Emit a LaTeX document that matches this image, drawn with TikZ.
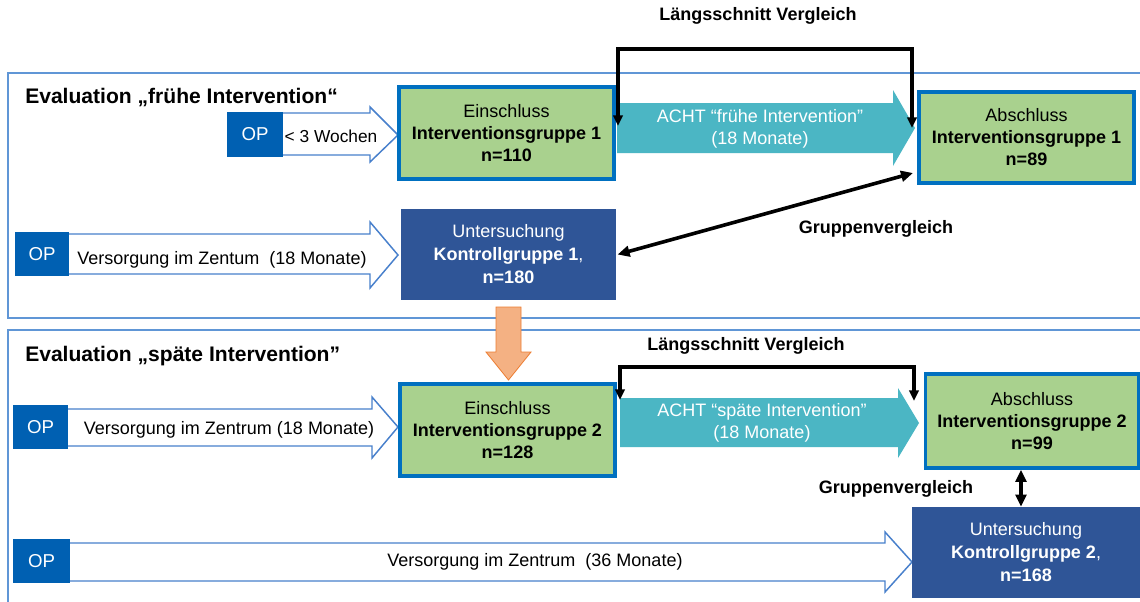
\documentclass[tikz,border=0pt]{standalone}
\usepackage{fontspec}
\setmainfont{Liberation Sans}
\usetikzlibrary{arrows.meta,calc}
\definecolor{opblue}{RGB}{0,96,178}
\definecolor{outblue}{RGB}{72,128,204}
\definecolor{framblue}{RGB}{96,150,214}
\definecolor{gfill}{RGB}{169,209,142}
\definecolor{gborder}{RGB}{0,112,192}
\definecolor{teal}{RGB}{75,182,196}
\definecolor{kblue}{RGB}{47,85,151}
\definecolor{ofill}{RGB}{244,177,131}
\definecolor{oborder}{RGB}{237,125,49}
\begin{document}
\begin{tikzpicture}[x=0.75pt,y=-0.75pt,
  txt/.style={font=\fontsize{13.5}{16.5}\selectfont, align=center, inner sep=0pt},
  btxt/.style={txt, font=\fontsize{13.5}{16.5}\selectfont\bfseries},
  title/.style={font=\fontsize{15.8}{19}\selectfont\bfseries, inner sep=0pt, anchor=west},
  greenbox/.style={txt, draw=gborder, line width=2.8pt, fill=gfill, minimum width=161.25pt, minimum height=69pt},
  kbox/.style={txt, fill=kblue, text=white, font=\fontsize{13.5}{17.25}\selectfont, minimum width=161.25pt, minimum height=68.25pt},
  opbox/.style={fill=opblue, text=white, font=\fontsize{14}{16}\selectfont, inner sep=0pt, minimum height=33pt},
  outarrow/.style={draw=outblue, line width=1.1pt, fill=white},
  tealarrow/.style={fill=teal},
  frame/.style={draw=framblue, line width=1.1pt},
  bracket/.style={line width=2.3pt, {Triangle[length=8pt,width=7pt]}-{Triangle[length=8pt,width=7pt]}},
  dbl/.style={line width=2.7pt, {Triangle[length=9pt,width=8pt]}-{Triangle[length=9pt,width=8pt]}}
]
\useasboundingbox (0,0) rectangle (1140,601);
\fill[white] (0,0) rectangle (1140,601);

% frames
\draw[frame] (1160,73) -- (8,73) -- (8,318) -- (1160,318);
\draw[frame] (1160,330) -- (8,330) -- (8,620);

% ===== Section 1 =====
\node[title] (t1) at (25,97) {Evaluation „frühe Intervention“};

\draw[outarrow] (240,113) -- (370,113) -- (370,107) -- (398,135) -- (370,162) -- (370,155) -- (240,155) -- cycle;
\node[opbox, minimum width=42pt, minimum height=33.75pt] (op1) at (255,134.5) {OP};
\node[txt, font=\fontsize{13}{16}\selectfont] (w1) at (331,136) {< 3 Wochen};

\node[greenbox] (ein1) at (506.5,133) {Einschluss\\\textbf{Interventionsgruppe 1}\\\textbf{n=110}};

\fill[tealarrow] (617,103) -- (893,103) -- (893,90) -- (915,128) -- (893,166) -- (893,153) -- (617,153) -- cycle;
\node[txt, text=white] (acht1) at (760,129) {ACHT “frühe Intervention”\\(18 Monate)};

\node[greenbox, minimum height=68.25pt] (abs1) at (1026.5,137.5) {Abschluss\\\textbf{Interventionsgruppe 1}\\\textbf{n=89}};

\node[btxt] (lv1) at (758,16) {Längsschnitt Vergleich};
\coordinate (lv1a) at (618,126);
\coordinate (lv1b) at (912,128);
\draw[bracket] (lv1a) -- (lv1a |- 0,49) -- (lv1b |- 0,49) -- (lv1b);

\draw[outarrow] (60,234) -- (370,234) -- (370,222) -- (398,255) -- (370,288) -- (370,274) -- (60,274) -- cycle;
\node[opbox, minimum width=40.5pt] (op2) at (42,254) {OP};
\node[txt] (v1) at (222,260) {Versorgung im Zentum\ \ (18 Monate)};

\node[kbox] (k1) at (508.5,254.5) {Untersuchung\\\textbf{Kontrollgruppe 1},\\\textbf{n=180}};

\node[btxt] (gv1) at (876,229) {Gruppenvergleich};
\coordinate (g1end) at (913,173);
\draw[dbl] ([xshift=1pt]k1.east) -- (g1end);

% orange transition arrow
\draw[fill=ofill, draw=oborder, line width=0.6pt] (496,307) -- (521,307) -- (521,352) -- (531,352) -- (508.5,380) -- (486,352) -- (496,352) -- cycle;

% ===== Section 2 =====
\node[title] (t2) at (25,356) {Evaluation „späte Intervention”};

\node[btxt] (lv2) at (746,346) {Längsschnitt Vergleich};

\draw[outarrow] (60,409) -- (372,409) -- (372,397) -- (398,427) -- (372,458) -- (372,446) -- (60,446) -- cycle;
\node[opbox, minimum width=41.25pt] (op3) at (40.5,427) {OP};
\node[txt] (v2) at (229,430) {Versorgung im Zentrum (18 Monate)};

\node[greenbox] (ein2) at (507.5,430) {Einschluss\\\textbf{Interventionsgruppe 2}\\\textbf{n=128}};

\fill[tealarrow] (620,398) -- (898,398) -- (898,388) -- (919,423) -- (898,458) -- (898,447) -- (620,447) -- cycle;
\node[txt, text=white] (acht2) at (762,423) {ACHT “späte Intervention”\\(18 Monate)};

\node[greenbox, minimum width=159.75pt, minimum height=70.5pt] (abs2) at (1032,421) {Abschluss\\\textbf{Interventionsgruppe 2}\\\textbf{n=99}};

\coordinate (lv2a) at (620,400);
\coordinate (lv2b) at (914,401);
\draw[bracket] (lv2a) -- (lv2a |- 0,367) -- (lv2b |- 0,367) -- (lv2b);

\node[btxt] (gv2) at (896,489) {Gruppenvergleich};

\draw[outarrow] (60,543) -- (885,543) -- (885,532) -- (912,562) -- (885,592) -- (885,581) -- (60,581) -- cycle;
\node[opbox, minimum width=42.75pt] (op4) at (41.5,561) {OP};
\node[txt] (v3) at (535,562) {Versorgung im Zentrum\ \ (36 Monate)};

\node[kbox, minimum width=171pt] (k2) at (1026,552.5) {Untersuchung\\\textbf{Kontrollgruppe 2},\\\textbf{n=168}};

\draw[dbl] ([xshift=-8.25pt]abs2.south) -- ([xshift=-8.25pt]abs2.south |- k2.north);
\end{tikzpicture}
\end{document}
